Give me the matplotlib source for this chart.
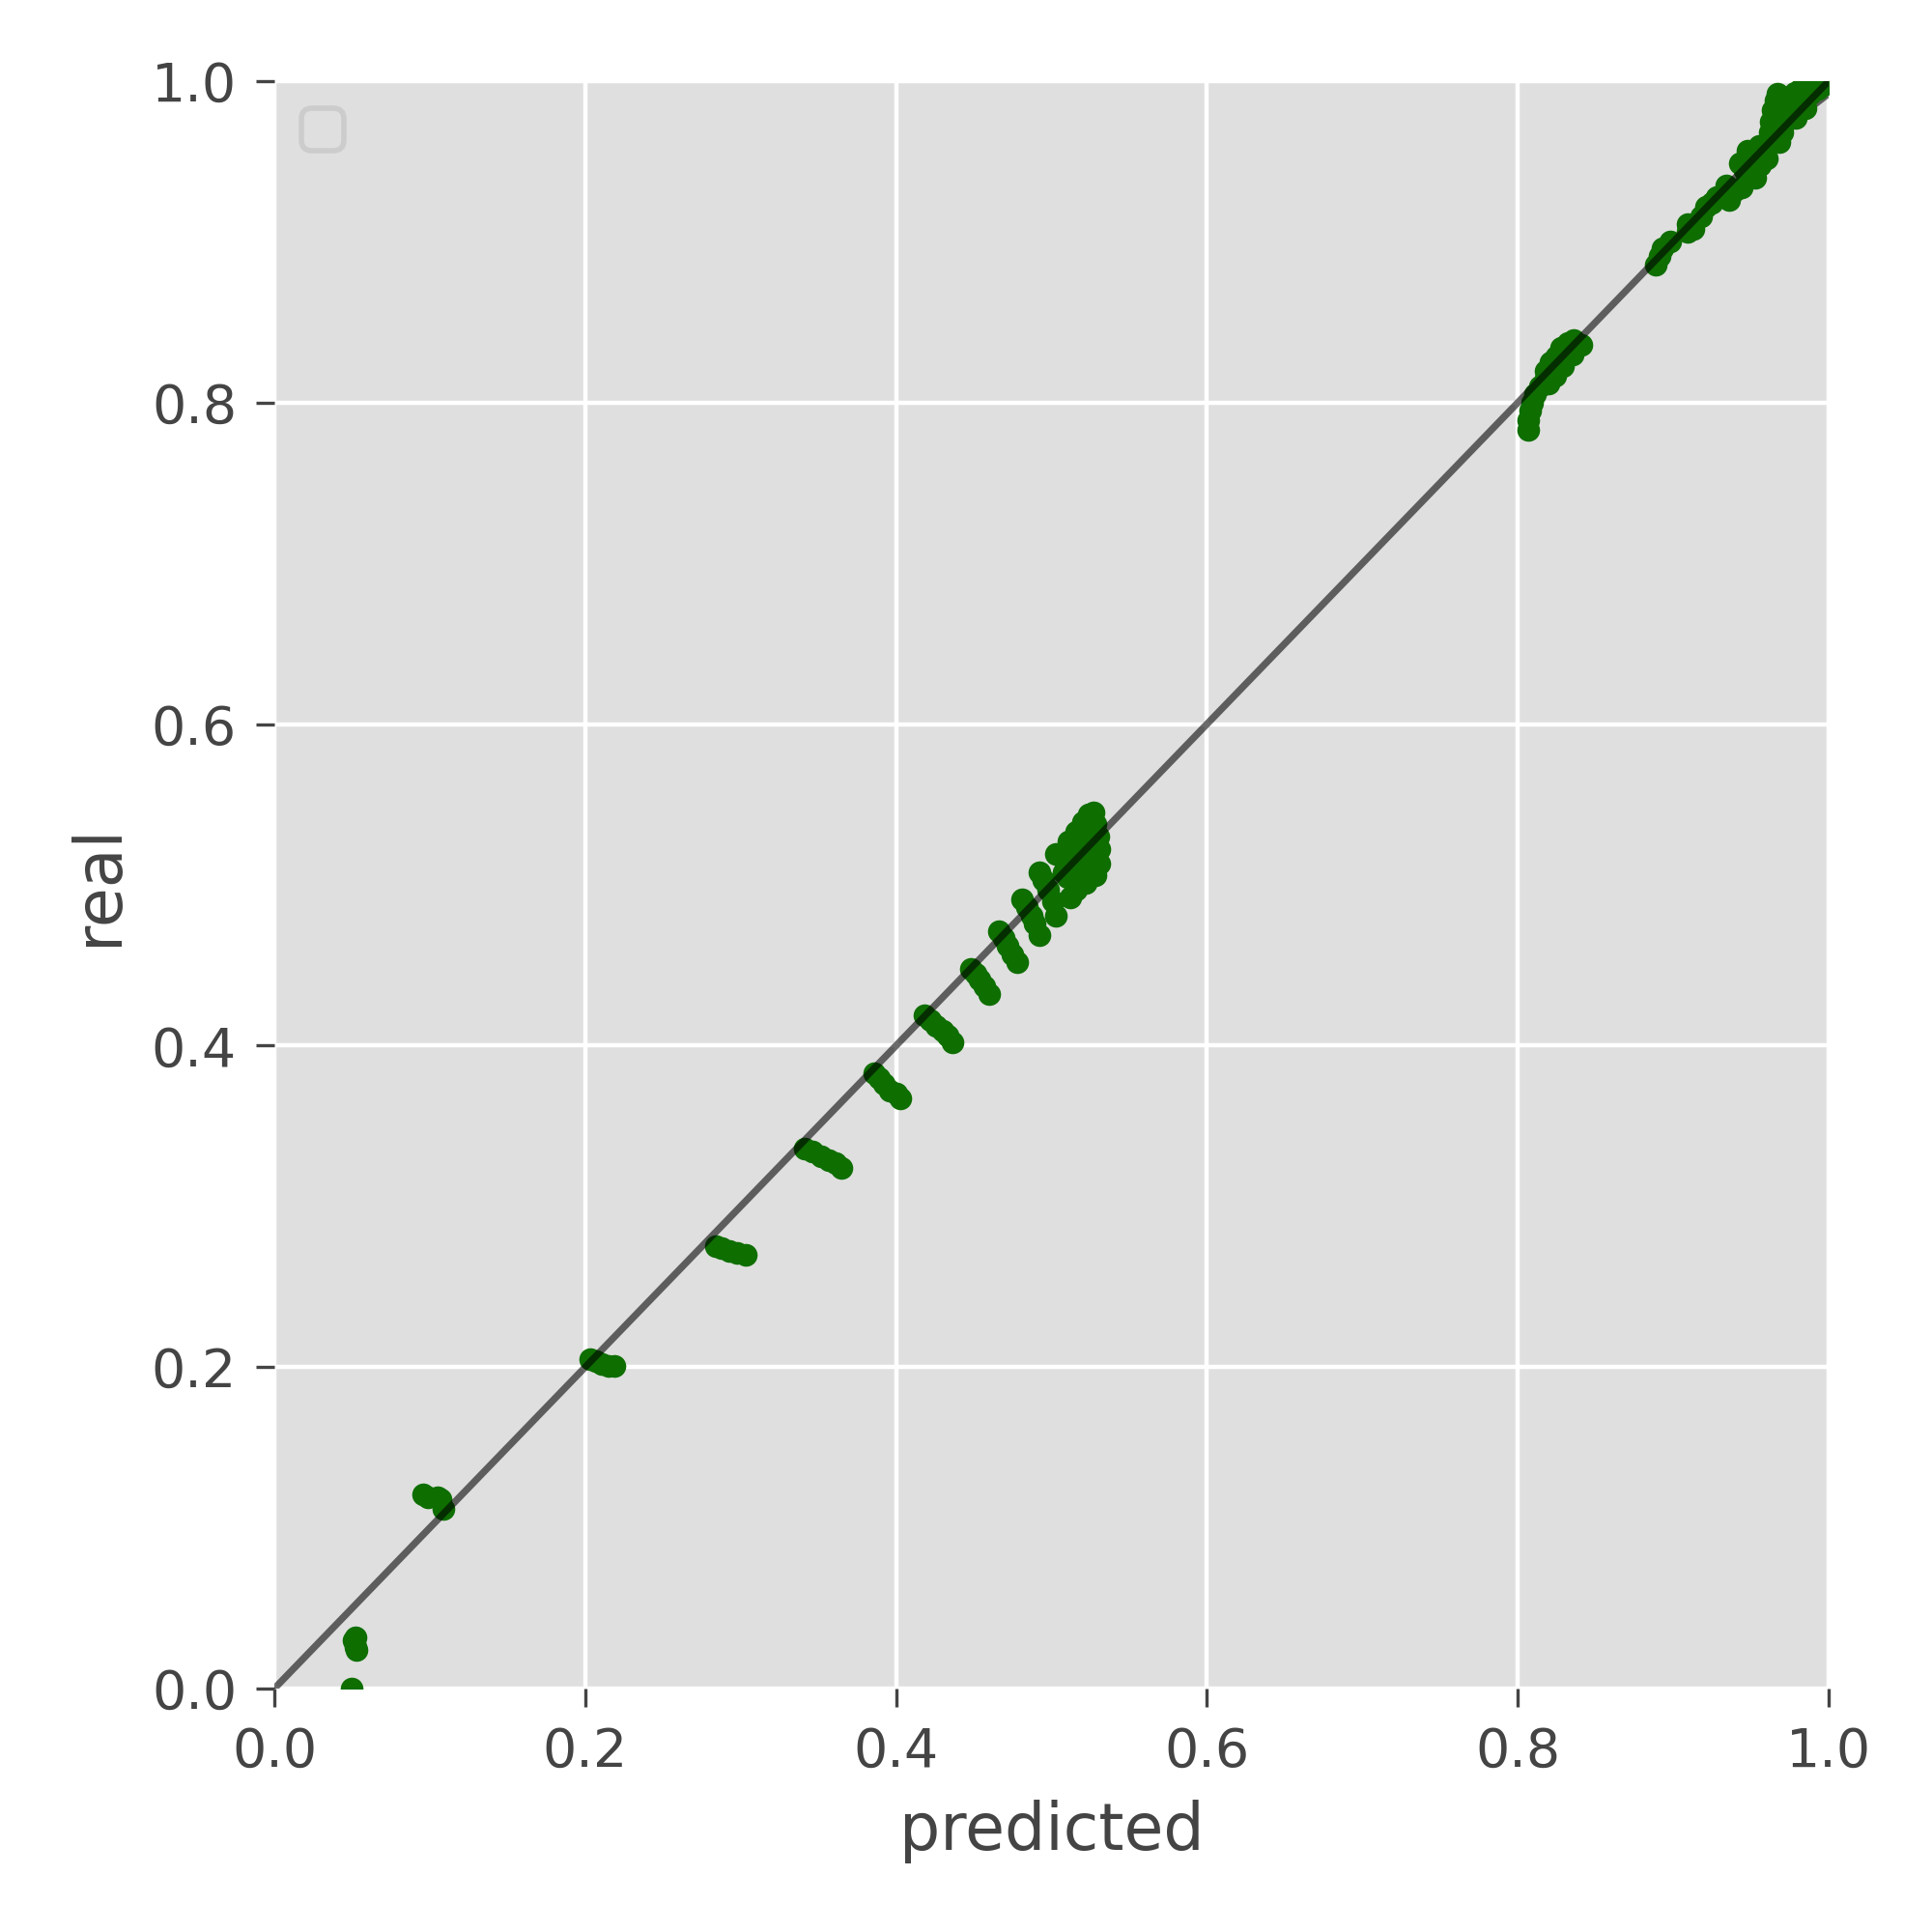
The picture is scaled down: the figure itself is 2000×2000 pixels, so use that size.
import matplotlib
matplotlib.use("Agg")
import matplotlib.pyplot as plt

predicted = [
    0.050, 0.051, 0.052, 0.052, 0.053,
    0.096, 0.099, 0.105, 0.107, 0.109,
    0.203, 0.207, 0.211, 0.215, 0.219,
    0.284, 0.288, 0.293, 0.298, 0.303,
    0.341, 0.346, 0.352, 0.357, 0.361, 0.365,
    0.386, 0.389, 0.392, 0.396, 0.400, 0.403,
    0.418, 0.422, 0.426, 0.430, 0.433, 0.436,
    0.448, 0.451, 0.454, 0.457, 0.460,
    0.466, 0.469, 0.472, 0.475, 0.478,
    0.481, 0.484, 0.487, 0.489, 0.492,
    0.492, 0.495, 0.498, 0.501, 0.503,
    0.503, 0.508, 0.511, 0.514, 0.516, 0.520, 0.524, 0.527, 0.528, 0.530,
    0.531, 0.531, 0.528, 0.522, 0.516, 0.512, 0.510, 0.515, 0.520, 0.524,
    0.518, 0.526, 0.522, 0.513, 0.508,
    0.807, 0.807, 0.808, 0.809, 0.811, 0.814, 0.818, 0.818, 0.821, 0.825,
    0.828, 0.832, 0.836, 0.841, 0.835, 0.829, 0.824, 0.820,
    0.889, 0.891, 0.893, 0.898,
    0.909, 0.909, 0.913, 0.918, 0.921, 0.925, 0.928, 0.934, 0.936, 0.940,
    0.944, 0.943, 0.946, 0.948, 0.950, 0.953, 0.955, 0.956, 0.960, 0.961,
    0.962, 0.963, 0.964, 0.966, 0.967, 0.968, 0.970, 0.970, 0.972, 0.974,
    0.975, 0.978, 0.978, 0.982, 0.983, 0.986, 0.988, 0.990, 0.993, 0.995,
    0.998, 1.000, 0.966, 0.958, 0.979, 0.985,
]
real = [
    0.000, 0.030, 0.032, 0.026, 0.024,
    0.121, 0.119, 0.119, 0.118, 0.112,
    0.205, 0.204, 0.202, 0.201, 0.201,
    0.275, 0.274, 0.272, 0.271, 0.270,
    0.336, 0.334, 0.331, 0.329, 0.327, 0.324,
    0.383, 0.380, 0.376, 0.372, 0.370, 0.367,
    0.419, 0.416, 0.412, 0.409, 0.406, 0.402,
    0.448, 0.445, 0.441, 0.437, 0.432,
    0.471, 0.467, 0.462, 0.457, 0.452,
    0.491, 0.486, 0.481, 0.476, 0.469,
    0.508, 0.503, 0.497, 0.490, 0.481,
    0.519, 0.516, 0.527, 0.522, 0.533, 0.539, 0.544, 0.545, 0.538, 0.530,
    0.522, 0.513, 0.506, 0.501, 0.497, 0.492, 0.505, 0.510, 0.515, 0.525,
    0.522, 0.533, 0.530, 0.515, 0.508,
    0.783, 0.789, 0.795, 0.800, 0.805, 0.810, 0.815, 0.820, 0.825, 0.829,
    0.834, 0.837, 0.839, 0.836, 0.830, 0.823, 0.817, 0.812,
    0.886, 0.891, 0.896, 0.900,
    0.906, 0.911, 0.908, 0.916, 0.922, 0.924, 0.928, 0.935, 0.926, 0.932,
    0.934, 0.949, 0.945, 0.957, 0.950, 0.940, 0.960, 0.948, 0.952, 0.962,
    0.968, 0.975, 0.982, 0.988, 0.992, 0.962, 0.968, 0.985, 0.975, 0.990,
    0.980, 0.993, 0.984, 0.995, 0.988, 0.997, 0.992, 0.998, 0.995, 1.000,
    0.998, 1.000, 0.972, 0.956, 0.977, 0.983,
]

ideal = [0.0, 1.0]

# short bending curve visible at the top-right corner
curve_x = [0.970, 0.978, 0.984, 0.989, 0.993, 0.997, 1.000]
curve_y = [0.970, 0.976, 0.980, 0.984, 0.987, 0.990, 0.992]

text_color = "#444444"
plt.rcParams["font.family"] = ["DejaVu Sans"]

fig = plt.figure(figsize=(5, 5), dpi=400)
ax = fig.add_axes([0.142, 0.126, 0.8045, 0.832])
ax.set_facecolor("#dfdfdf")
ax.set_axisbelow(True)
ax.grid(True, color="white", linewidth=0.8)
for s in ax.spines.values():
    s.set_visible(False)

ax.scatter(predicted, real, s=18, color="#0e6e00", zorder=3, linewidths=0)
ax.plot(curve_x, curve_y, color="black", alpha=0.58, linewidth=1.3, zorder=2)
ax.plot(ideal, ideal, color="black", alpha=0.58, linewidth=1.3, zorder=4)

ax.set_xlim(0, 1)
ax.set_ylim(0, 1)
ax.set_xticks([0.0, 0.2, 0.4, 0.6, 0.8, 1.0])
ax.set_yticks([0.0, 0.2, 0.4, 0.6, 0.8, 1.0])
ax.tick_params(direction="out", length=3.5, width=0.6, color=text_color,
               labelcolor=text_color, labelsize=10, pad=3.5)
ax.set_xlabel("predicted", fontsize=12, color=text_color)
ax.set_ylabel("real", fontsize=12, color=text_color)

leg = ax.legend(handles=[], loc="upper left", fancybox=True)
leg.get_frame().set_edgecolor("#c8c8c8")
leg.get_frame().set_facecolor("#dfdfdf")

fig.savefig("out.png", dpi=400)
